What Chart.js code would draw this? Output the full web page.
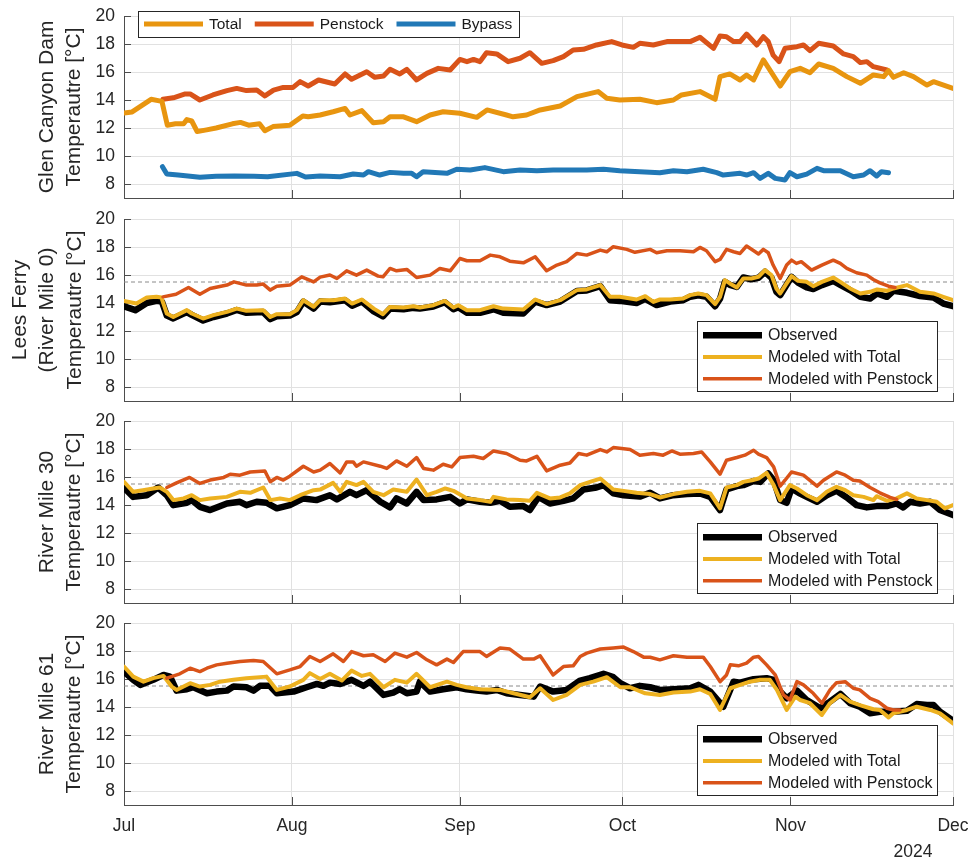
<!DOCTYPE html>
<html>
<head>
<meta charset="utf-8">
<script src="https://cdn.jsdelivr.net/npm/chart.js@4.4.1/dist/chart.umd.min.js"></script>
<style>
html, body { margin: 0; padding: 0; background: #fff; }
#wrap { position: relative; width: 972px; height: 863px; }
canvas { position: absolute; left: 0; }
</style>
</head>
<body>
<div id="wrap">
  <canvas id="p1" width="972" height="210" style="top:0px"></canvas>
  <canvas id="p2" width="972" height="200" style="top:210px"></canvas>
  <canvas id="p3" width="972" height="200" style="top:410px"></canvas>
  <canvas id="p4" width="972" height="253" style="top:610px"></canvas>
</div>
<script>
// x is day since Jul 1 2024
var monthDays = [0, 31, 62, 92, 123, 153];
var monthLabels = ['Jul', 'Aug', 'Sep', 'Oct', 'Nov', 'Dec'];
var yTicks = [8, 10, 12, 14, 16, 18, 20];
var threshold = 15.5;

var damLegend = ['Total', 'Penstock', 'Bypass'];
var riverLegend = ['Observed', 'Modeled with Total', 'Modeled with Penstock'];

// --- Glen Canyon Dam release ---
var damTotalDays = [0,1.5,5,7,8,9.5,11,11.6,12.5,13.5,15,17,20,21.5,23,25,26,27.5,30.6,33,34,36.2,38.6,40.8,41.7,43.9,46,47.9,49.1,51.6,54,56.5,58.9,62,65.1,67,70.6,71.8,74.3,76.8,80.5,83.6,87.5,89.1,91.5,95.2,98.3,101.4,102.9,106.3,109.1,110,111.8,113.7,114.9,116.2,118,121.1,122.9,124.8,126.6,128.2,130.9,133.4,135.9,138.3,140.2,141.1,142,143.9,145.7,148.2,149.4,153];
var damTotalVals = [13.07,13.15,14.05,13.9,12.2,12.3,12.3,12.6,12.5,11.75,11.85,12.0,12.3,12.4,12.2,12.3,11.8,12.1,12.2,12.86,12.8,12.93,13.16,13.4,12.93,13.24,12.38,12.45,12.8,12.8,12.45,12.93,13.16,13.05,12.76,13.29,12.93,12.8,12.93,13.29,13.57,14.24,14.6,14.12,14.0,14.05,13.81,14.0,14.36,14.6,14.05,15.67,15.86,15.43,15.79,15.43,16.86,15.0,16.02,16.26,15.95,16.57,16.26,15.67,15.19,15.79,15.67,16.1,15.62,15.95,15.67,15.07,15.31,14.83];

var damPenDays = [7.2,9.1,11.3,12.2,14,16.4,19,20.8,22.6,24.5,26,27.6,29.4,31.2,32.5,34,35.9,38.9,40.8,42,44.8,46.3,47.9,49.1,50.9,52.2,54,55.9,58,60.2,62,63.3,64.5,65.7,66.9,68.8,70.9,73.1,74.9,77.1,79.2,81.1,82.9,84.8,87.2,90,91.9,94,95.2,97.7,100.2,102.6,104.5,106.3,108.8,110,111.2,112.5,113.7,114.9,116.8,118,118.9,119.8,120.9,122,124.2,125.4,126.6,128.2,130.9,132.8,134.6,135.9,137.1,138.3,140.8];
var damPenVals = [14.05,14.16,14.43,14.43,14.0,14.36,14.67,14.83,14.67,14.71,14.29,14.71,14.9,14.9,15.31,15.0,15.43,15.14,15.86,15.48,16.02,15.62,15.71,16.19,15.86,16.19,15.43,15.9,16.26,16.14,16.9,16.74,16.9,16.74,17.38,17.29,16.74,16.98,17.38,16.62,16.81,17.1,17.57,17.62,17.93,18.17,17.93,17.76,18.05,17.93,18.17,18.17,18.17,18.48,17.69,18.57,18.52,18.17,18.17,18.71,17.93,18.52,18.17,17.21,16.74,17.69,17.81,17.93,17.52,18.05,17.86,17.29,17.1,16.67,16.74,16.38,16.14];

var damBypDays = [7.1,7.9,10,14,17,20.4,24,26.5,31.9,33.5,36.2,39.9,42.3,44.2,45.1,47.2,49.1,51.6,53.1,54,55.2,59.6,61.4,63.9,66.6,70,73.1,76.2,79.2,85.4,88.5,91.5,95.2,98.9,101.4,103.9,106.9,109.4,110.6,113.7,114.9,116.2,117.4,118.9,120.2,122,122.9,124.2,126,127.9,129.1,132.2,134.6,136.5,137.7,138.9,139.8,141.1];
var damBypVals = [9.24,8.71,8.64,8.48,8.55,8.57,8.55,8.52,8.76,8.5,8.57,8.52,8.71,8.64,8.88,8.64,8.83,8.76,8.76,8.52,8.88,8.76,9.05,9.0,9.17,8.88,9.0,8.95,9.0,9.0,9.05,8.95,8.88,8.81,8.95,8.88,9.05,8.81,8.64,8.76,8.64,8.81,8.4,8.76,8.4,8.29,8.81,8.52,8.71,9.12,8.95,8.95,8.52,8.64,8.95,8.57,8.88,8.81];

// --- Lees Ferry (RM 0) ---
var lfObsDays = [0,2.1,4.2,6,7,7.9,9.1,11.6,12.5,14.6,16.5,19,20.8,22.6,25.7,27,28.2,30.6,31.9,33.1,35,36.2,38,40.8,42.1,43.9,46.1,47.8,49.1,51.6,53.4,54.6,57.1,59.2,60.8,61.7,63.3,65.7,68.2,70,73.7,75.9,78,80.5,83.6,85.4,87.9,89.7,91.5,94.6,96.2,98.3,100.8,103.2,104.5,106,107.5,109.1,110,110.9,111.8,113.1,114.3,115.8,117.1,118.3,119.5,120.4,121.1,122.3,123.2,124.4,126,127.2,128.8,130.9,132.2,134,135.9,137.7,139,140.8,142,144.5,146.9,149.4,151.2,153];
var lfObsVals = [13.77,13.49,14.0,14.15,14.1,13.1,12.9,13.35,13.15,12.75,13.0,13.25,13.5,13.3,13.35,12.85,13.05,13.1,13.35,14.1,13.6,14.1,14.05,14.2,13.8,14.1,13.4,13.05,13.6,13.55,13.65,13.6,13.75,14.05,13.55,13.7,13.3,13.3,13.55,13.3,13.25,14.1,13.85,14.1,14.85,14.9,15.2,14.2,14.15,14.0,14.3,13.85,14.1,14.2,14.45,14.55,14.45,13.77,14.3,15.51,15.3,15.15,15.82,15.7,15.8,16.23,15.8,14.8,14.56,15.3,15.87,15.45,15.11,15.0,15.28,15.58,15.3,14.92,14.44,14.32,14.68,14.44,14.87,14.73,14.5,14.39,13.96,13.77];

var lfTotDays = [0,2.3,4.2,6,6.9,7.9,9.1,11.6,12.5,14.6,16.5,19,20.8,22.6,25.7,27,28.2,30.6,31.9,33.1,35,36.2,38.7,40.8,42.1,43.9,46.1,47.8,49.1,51.6,53.4,54.6,57.1,59.2,60.8,61.7,63.3,65.7,68.2,70,73.7,75.9,78,80.5,83.6,85.4,87.9,89.7,91.5,94.6,96.2,97.7,98.9,100.8,103.2,104.5,106,107.5,109.1,110,110.9,111.8,113.1,114.3,115.8,117.1,118.3,119.5,120.4,121.1,122.3,123.2,124.4,126,127.2,128.8,130.9,132.2,134,135.9,137.7,139,140.8,142,144.5,146.9,149.4,151.2,153];
var lfTotVals = [14.15,13.96,14.39,14.44,14.39,13.25,13.0,13.49,13.25,12.89,13.13,13.37,13.6,13.44,13.49,13.0,13.2,13.2,13.49,14.2,13.73,14.2,14.2,14.32,13.96,14.25,13.6,13.2,13.72,13.68,13.77,13.68,13.84,14.15,13.68,13.84,13.49,13.49,13.77,13.6,13.53,14.25,13.92,14.2,14.92,14.97,15.28,14.44,14.44,14.25,14.49,14.08,14.25,14.25,14.32,14.56,14.68,14.56,13.92,14.44,15.63,15.4,15.11,15.75,15.75,15.87,16.35,15.99,15.04,14.68,15.4,15.92,15.58,15.51,15.2,15.51,15.82,15.51,15.04,14.68,14.8,14.97,14.87,15.04,15.28,14.8,14.68,14.44,14.2];

var lfPenDays = [7.2,9.6,11.9,14,15.9,19,20.3,22.6,24.5,25.7,27,28.2,30.6,32.8,35,36.2,38,39.3,41.1,42.9,44.8,46.9,47.8,49.1,50.3,52.2,54,56.5,58.3,60.2,62,63.3,65.7,67.6,69.4,71.2,73.7,75.9,78,79.9,81.7,83.6,85.4,87.9,89.1,90.3,92.8,94.3,97.1,98.3,100.2,102.6,105.1,106.3,107.5,109.1,110,111.2,112.5,113.7,114.9,116.5,117.1,118,118.9,119.8,121.1,122.3,123.2,124.1,125,126.9,128.8,130.9,132.2,133.4,135.2,137.1,138.3,139.5,141.1,142.3];
var lfPenVals = [14.44,14.63,15.11,14.63,15.04,15.28,15.51,15.28,15.28,15.35,14.92,15.2,15.28,15.87,15.51,15.85,16.0,15.75,16.3,15.99,16.35,15.92,15.87,16.47,16.3,16.4,15.82,15.99,16.47,16.3,17.18,17.02,17.02,17.42,17.3,16.99,16.87,17.3,16.3,16.71,16.95,17.54,17.42,17.78,17.66,18.02,17.83,17.62,17.83,17.59,17.73,17.73,17.66,17.97,17.73,16.95,17.11,17.83,17.66,17.54,18.07,17.66,17.5,17.83,17.59,16.71,15.75,16.71,17.06,16.83,16.95,16.35,16.71,17.06,16.83,16.47,16.16,15.99,15.68,15.44,15.2,15.11];

// --- River Mile 30 ---
var rm30ObsDays = [0,1.7,4.2,6.3,7.9,9.1,11.6,12.5,14,15.9,19,21.4,22.6,24.5,26.3,28.2,30.6,33.1,35.5,38,39.3,41.7,42.9,44.8,47.3,49.1,50.3,52.2,54,55.3,57.7,60.2,62,63.3,65.7,67.6,69.4,71.2,73.7,74.9,76.5,78.6,81.1,82.9,84.8,87.2,88.5,90.3,92.2,95.2,97.1,98.9,101.4,103.9,106.3,108.2,110,111.2,113.1,114.3,116.2,117.4,118.9,119.9,121.1,122.3,123.2,124.5,126,127.9,129.7,131.5,133.4,135.2,137.1,138.9,140.8,142.6,143.8,145.1,146.9,148.8,150.6,153];
var rm30ObsVals = [15.25,14.58,14.7,15.25,14.7,13.99,14.16,14.35,13.87,13.64,14.11,14.23,13.99,14.23,14.16,13.76,13.99,14.47,14.35,14.7,14.4,14.94,14.7,15.06,14.23,13.83,14.47,14.11,14.94,14.35,14.4,14.58,14.11,14.4,14.23,14.16,14.3,13.87,13.92,13.64,14.58,14.11,14.3,14.47,15.11,15.25,15.42,14.83,14.7,14.6,14.87,14.47,14.7,14.78,14.83,14.58,13.64,15.11,15.35,15.42,15.72,15.65,16.25,15.77,14.35,14.16,15.18,14.87,14.58,14.23,14.7,15.01,14.54,13.99,13.83,13.92,13.92,14.11,13.83,14.23,14.11,14.23,13.64,13.28];

var rm30TotDays = [0,1.7,3.5,5.4,6.6,7.9,9.1,11,12.5,14,15.9,19,21.4,23.3,25.7,27,28.8,30.6,32.5,35,36.2,38.6,39.9,41.1,42.9,44.2,46,47.9,49.7,52.2,54,55.9,57.7,59.3,60.8,63.3,65.7,67.6,68.2,70.6,73.1,74.9,76.2,78.6,80.5,82.3,84.2,86,87.9,90.3,92.2,94.6,97.1,98.9,101.4,103.9,106.3,108.2,110,111.2,113.1,114.3,115.9,117.1,118.6,119.9,121.1,122.9,124.2,126,127.9,129.7,131.5,133.1,134.6,136.5,138.3,138.9,140.8,142.6,144.5,146.3,148.2,150,151.5,153];
var rm30TotVals = [15.65,14.94,15.06,15.18,15.25,14.94,14.35,14.47,14.7,14.35,14.47,14.58,14.94,14.87,15.25,14.35,14.47,14.35,14.7,15.06,15.1,15.58,14.94,15.65,15.42,15.65,14.94,14.7,15.11,14.94,15.82,14.7,14.94,15.18,15.01,14.47,14.35,14.23,14.58,14.4,14.35,14.3,14.87,14.47,14.54,14.83,15.42,15.65,15.89,15.11,15.01,14.87,14.78,14.54,14.78,14.94,15.01,14.83,13.76,15.25,15.42,15.65,15.77,15.89,16.29,15.42,14.35,15.42,15.18,14.7,14.35,14.94,15.3,15.06,14.7,14.58,14.35,14.63,14.3,14.47,14.83,14.47,14.35,14.23,13.76,13.99];

var rm30PenDays = [7.9,9.7,12.1,14,15.9,18.4,19.6,21.4,23.3,26,27,28.2,29.4,30.6,33.1,35,36.2,38,39.9,41.1,42.3,42.9,44.2,47.3,48.5,50.3,52.2,54,55.3,57.1,58.9,60.5,62,64.5,66.3,68.2,70.6,73.1,74.3,76.2,78,80.5,82.3,83.9,85.4,87.9,89.1,90.3,93.4,95.2,97.7,99.5,101.1,102.6,105.1,106.6,108.2,110,111.2,113.1,114.6,116.2,117.1,118.6,119.9,121.1,122,123.2,125.4,127.9,129.1,131.5,133.1,134.6,135.8,137.7,139.5,141.4,142.6];
var rm30PenVals = [15.25,15.58,15.97,15.54,15.78,15.97,16.2,16.13,16.36,16.43,15.66,15.97,15.78,16.06,16.77,16.36,16.49,16.96,16.29,17.08,17.08,16.77,17.08,16.77,16.61,17.15,16.77,17.39,16.61,16.49,16.91,16.72,17.39,17.48,17.32,17.86,17.68,17.2,17.15,17.48,16.44,16.84,17.0,17.68,17.56,17.96,17.79,18.1,17.96,17.56,17.68,17.56,17.86,17.63,17.68,17.79,17.08,16.2,17.2,17.39,17.56,17.91,17.63,17.39,16.72,15.35,15.77,16.36,16.13,15.35,15.77,16.36,16.13,15.77,15.72,15.25,14.87,14.54,14.4];

// --- River Mile 61 ---
var rm61ObsDays = [0,1.7,3,5.4,7.3,8.5,9.7,11.6,12.8,15.3,17.1,19,20.2,22.6,23.9,25.1,26.9,28.2,31.3,33.7,35.6,36.8,38,39.9,42,44.2,45.4,47.9,49.7,50.9,52.2,54,54.6,56.5,58.9,61.4,63.2,65.1,66.9,68.8,70.6,73.1,75.6,76.8,79.2,81.7,84.2,86,88.5,90.3,91.6,93.4,95.2,97.1,98.9,101.4,104.5,106,108.2,110.6,112.5,113.7,116.2,118.6,119.9,121.1,122.3,124.2,126,128.5,130.3,132.2,134,135.8,137.7,139.5,142,144.5,146.3,148.2,149.4,150.6,153];
var rm61ObsVals = [16.53,15.94,15.58,15.94,16.29,16.17,15.17,15.27,15.41,14.98,15.1,15.17,15.46,15.41,15.17,15.51,15.51,14.98,15.1,15.41,15.65,15.51,15.74,15.65,15.94,15.51,15.81,14.86,15.03,15.27,14.98,15.1,15.81,15.1,15.27,15.41,15.27,15.17,15.1,15.22,14.98,14.86,14.74,15.46,15.1,15.22,15.89,16.06,16.37,16.13,15.7,15.34,15.51,15.41,15.22,15.27,15.34,15.58,15.1,14.02,15.81,15.74,15.99,16.06,15.94,15.1,14.62,15.17,14.5,13.91,14.38,14.93,14.27,14.02,13.55,13.66,13.66,13.73,14.21,14.14,14.14,13.66,13.02];

var rm61TotDays = [0,1.7,3.6,5.4,7.3,8.8,9.7,12.2,14,15.9,17.7,20.2,22.6,26.3,28.2,30.6,33.1,34.3,36.2,38,40.2,42,43.9,45.4,47.9,50,52.2,54,56.5,59.6,61.4,63.2,65.7,69.4,71.9,74.9,76.8,79.2,81.7,84.2,86.6,89.1,91.6,93.4,96.2,98.9,101.4,104.5,106.3,108.2,110,111.9,113.7,115.5,117.4,119.2,120.5,122.3,123.9,124.8,126.6,128.8,130.3,132.2,134,135.8,138.3,139.5,141.1,142,144.5,146.3,148.8,150.6,153];
var rm61TotVals = [16.89,16.17,15.81,16.06,16.22,15.46,15.22,15.7,15.46,15.58,15.81,15.94,16.06,16.17,15.22,15.46,15.94,16.42,16.0,16.37,15.89,16.6,16.22,16.37,15.41,15.94,15.74,16.37,15.41,15.81,15.58,15.41,15.27,15.22,14.98,14.7,15.34,14.5,14.86,15.58,15.81,16.13,15.41,15.41,14.98,14.86,15.03,15.1,15.27,14.93,13.79,15.34,15.58,15.81,15.94,15.94,15.22,13.79,14.74,14.5,14.27,13.43,14.27,14.86,14.38,14.14,13.84,13.79,13.26,13.55,13.79,14.02,13.79,13.55,12.83];

var rm61PenDays = [7.9,10.3,12.2,14,15.3,17.1,19,21.4,23.9,25.7,28.2,30.6,32.5,34.3,36.2,38.6,40.5,42,44.2,46,48.2,50,52.2,54,55.9,57.7,59.6,60.8,62.6,65.7,66.9,69.4,71.2,73.7,75.6,76.8,79.2,81.1,82.9,84.2,85.4,87.9,90.3,92.2,94,95.9,97.1,98.9,101.4,103.9,106.9,108.2,110,111.2,111.9,113.4,114.9,116.2,117.1,118.6,120.2,121.7,122.9,124.2,125.4,127.2,128.8,130.3,131.5,133.1,134.6,135.8,137.7,139.2,140.8,142,143.2];
var rm61PenVals = [16.06,16.37,16.77,16.53,16.77,17.01,17.13,17.25,17.32,17.25,16.37,16.65,16.89,17.61,17.25,17.8,17.25,17.96,17.66,17.73,17.25,17.85,17.56,17.89,17.37,17.01,17.42,17.18,17.96,17.96,17.61,18.21,18.14,17.42,17.42,17.66,16.29,16.89,16.94,17.61,17.85,18.14,18.21,18.28,17.96,17.56,17.55,17.37,17.66,17.56,17.56,16.89,15.81,16.29,17.01,16.94,17.13,17.56,17.61,17.01,16.29,14.86,14.5,15.81,15.58,14.98,14.27,15.22,15.74,15.81,15.34,15.22,14.62,14.38,13.91,13.79,13.79];

var FONT = '"Liberation Sans", Arial, Helvetica, sans-serif';
var TXT = '#262626';

function pts(days, vals) {
    return days.map(function (d, i) { return { x: d, y: vals[i] }; });
}

function line(label, days, vals, color, width) {
    return { label: label, data: pts(days, vals), borderColor: color, backgroundColor: color,
             borderWidth: width, fill: false };
}

function dashLine() {
    return { label: 'ref', data: pts([monthDays[0], monthDays[monthDays.length - 1]], [threshold, threshold]),
             borderColor: '#8a8a8a', borderWidth: 1, borderDash: [4, 3], borderCapStyle: 'butt', fill: false };
}

// ticks pointing inward like the original figure
var innerTicks = {
    id: 'innerTicks',
    beforeDatasetsDraw: function (chart) {
        var ctx = chart.ctx, ca = chart.chartArea;
        var xs = chart.scales.x, ys = chart.scales.y;
        ctx.save();
        ctx.strokeStyle = '#4d4d4d';
        ctx.lineWidth = 1;
        ctx.beginPath();
        yTicks.forEach(function (v) {
            var py = Math.round(ys.getPixelForValue(v)) + 0.5;
            ctx.moveTo(ca.left, py); ctx.lineTo(ca.left + 7, py);
        });
        monthDays.forEach(function (v) {
            var px = Math.round(xs.getPixelForValue(v)) + 0.5;
            ctx.moveTo(px, ca.bottom); ctx.lineTo(px, ca.bottom - 8);
        });
        ctx.stroke();
        ctx.restore();
    }
};

var boxLegend = {
    id: 'boxLegend',
    afterDraw: function (chart, args, opts) {
        if (!opts.labels) return;
        var ctx = chart.ctx, ca = chart.chartArea;
        var sets = opts.labels.map(function (l) {
            return chart.data.datasets.filter(function (d) { return d.label === l; })[0];
        });
        ctx.save();
        ctx.font = opts.fontSize + 'px ' + FONT;
        ctx.textBaseline = 'middle';
        var x0, y0, w, h;
        if (opts.row) {
            var tw = opts.labels.map(function (l) { return ctx.measureText(l).width; });
            w = 6;
            tw.forEach(function (t, i) { w += 59 + 6 + t + (i < tw.length - 1 ? 13 : 7); });
            h = 26;
            x0 = ca.left + 14;
            y0 = ca.top - 5;
        } else {
            w = 240; h = 70;
            x0 = ca.right - 16 - w;
            y0 = ca.bottom - 10 - h;
        }
        ctx.fillStyle = '#fff';
        ctx.fillRect(x0, y0, w, h);
        ctx.strokeStyle = '#262626';
        ctx.lineWidth = 1;
        ctx.strokeRect(Math.round(x0) + 0.5, Math.round(y0) + 0.5, Math.round(w), Math.round(h));
        var cx = x0 + 6;
        sets.forEach(function (ds, i) {
            var lx, ly;
            if (opts.row) { lx = cx; ly = y0 + h / 2; }
            else { lx = x0 + 6; ly = y0 + 14.3 + i * 21.7; }
            ctx.strokeStyle = ds.borderColor;
            ctx.lineWidth = ds.borderWidth;
            ctx.beginPath();
            ctx.moveTo(lx, ly); ctx.lineTo(lx + 59, ly);
            ctx.stroke();
            ctx.fillStyle = '#1a1a1a';
            ctx.fillText(ds.label, lx + 65, ly + 0.5);
            if (opts.row) cx = lx + 65 + ctx.measureText(ds.label).width + 13;
        });
        ctx.restore();
    }
};

var yearText = {
    id: 'yearText',
    afterDraw: function (chart, args, opts) {
        if (!opts.text) return;
        var ctx = chart.ctx;
        ctx.save();
        ctx.font = '17.5px ' + FONT;
        ctx.fillStyle = TXT;
        ctx.textAlign = 'center';
        ctx.textBaseline = 'middle';
        ctx.fillText(opts.text, chart.chartArea.right - 40, 242);
        ctx.restore();
    }
};

function makePanel(id, p) {
    return new Chart(document.getElementById(id), {
        type: 'line',
        data: { datasets: p.datasets },
        options: {
            responsive: false,
            animation: false,
            events: [],
            layout: { padding: { top: p.padTop, right: 19, left: 0, bottom: 0 } },
            elements: {
                point: { radius: 0 },
                line: { tension: 0, borderCapStyle: 'round', borderJoinStyle: 'round' }
            },
            plugins: {
                legend: { display: false },
                tooltip: { enabled: false },
                boxLegend: p.legend,
                yearText: { text: p.year }
            },
            scales: {
                x: {
                    type: 'linear', min: 0, max: 153,
                    afterBuildTicks: function (s) { s.ticks = monthDays.map(function (v) { return { value: v }; }); },
                    afterFit: function (s) { s.height = p.xHeight; s.paddingLeft = 0; s.paddingRight = 0; },
                    ticks: {
                        display: p.showX, autoSkip: false, maxRotation: 0, padding: 11,
                        color: TXT, font: { family: FONT, size: 17.5 },
                        callback: function (v) { return monthLabels[monthDays.indexOf(v)]; }
                    },
                    grid: { color: '#e1e1e1', drawTicks: false },
                    border: { display: true, color: '#4d4d4d', width: 1 }
                },
                y: {
                    min: 7, max: 20,
                    afterBuildTicks: function (s) { s.ticks = yTicks.map(function (v) { return { value: v }; }); },
                    afterFit: function (s) { s.width = 124; s.paddingTop = 0; s.paddingBottom = 0; },
                    ticks: { padding: 9, color: TXT, font: { family: FONT, size: 17.5 } },
                    grid: { color: '#e1e1e1', drawTicks: false },
                    border: { display: true, color: '#4d4d4d', width: 1 },
                    title: {
                        display: true, text: p.title, color: TXT,
                        font: { family: FONT, size: 21, lineHeight: 27.5 / 21 },
                        padding: { top: p.titlePad, bottom: 0 }
                    }
                }
            }
        },
        plugins: [innerTicks, boxLegend, yearText]
    });
}

makePanel('p1', {
    padTop: 16, xHeight: 12, showX: false, titlePad: 33.25,
    title: ['Glen Canyon Dam', 'Temperautre [°C]'],
    legend: { labels: damLegend, row: true, fontSize: 15.5 },
    datasets: [
        line(damLegend[0], damTotalDays, damTotalVals, '#e8950f', 5),
        line(damLegend[1], damPenDays, damPenVals, '#d95319', 5),
        line(damLegend[2], damBypDays, damBypVals, '#2178b6', 5)
    ]
});

function riverSets(obsD, obsV, totD, totV, penD, penV) {
    return [
        line(riverLegend[2], penD, penV, '#d95319', 3.5),
        line(riverLegend[1], totD, totV, '#edb120', 4),
        line(riverLegend[0], obsD, obsV, '#000000', 6.5),
        dashLine()
    ];
}

makePanel('p2', {
    padTop: 9, xHeight: 9, showX: false, titlePad: 6.25,
    title: ['Lees Ferry', '(River Mile 0)', 'Temperautre [°C]'],
    legend: { labels: riverLegend, row: false, fontSize: 16 },
    datasets: riverSets(lfObsDays, lfObsVals, lfTotDays, lfTotVals, lfPenDays, lfPenVals)
});

makePanel('p3', {
    padTop: 11, xHeight: 7, showX: false, titlePad: 33.25,
    title: ['River Mile 30', 'Temperautre [°C]'],
    legend: { labels: riverLegend, row: false, fontSize: 16 },
    datasets: riverSets(rm30ObsDays, rm30ObsVals, rm30TotDays, rm30TotVals, rm30PenDays, rm30PenVals)
});

makePanel('p4', {
    padTop: 13, xHeight: 58, showX: true, titlePad: 33.25, year: '2024',
    title: ['River Mile 61', 'Temperautre [°C]'],
    legend: { labels: riverLegend, row: false, fontSize: 16 },
    datasets: riverSets(rm61ObsDays, rm61ObsVals, rm61TotDays, rm61TotVals, rm61PenDays, rm61PenVals)
});
</script>
</body>
</html>
